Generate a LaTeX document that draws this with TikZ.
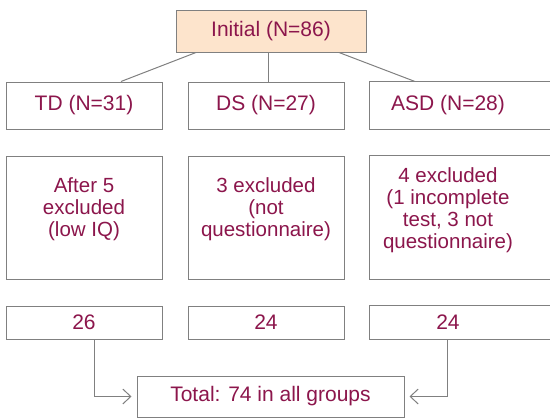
\documentclass[tikz,border=0pt]{standalone}
\usepackage{fontspec}
\setmainfont{Liberation Sans}
\usepackage{tikz}
\usetikzlibrary{arrows.meta}
\definecolor{textred}{RGB}{140,22,76}
\definecolor{linegray}{RGB}{128,128,128}
\definecolor{peach}{RGB}{253,228,204}
\tikzstyle{box}=[rectangle,draw=linegray,line width=1pt,fill=white,text=textred,minimum width=156pt,inner sep=0pt,font=\fontsize{21}{22}\selectfont]
\tikzstyle{open box}=[box,draw=none]
\tikzstyle{boxtext}=[text=textred,align=center,inner sep=0pt,font=\fontsize{20.5}{22}\selectfont]
\tikzstyle{link}=[draw=linegray,line width=1pt]
\tikzstyle{arrow}=[link,-{Straight Barb[length=8pt,width=15pt]},shorten >=5pt]

\begin{document}
\begin{tikzpicture}[x=1pt,y=-1pt]
    \clip (0,0) rectangle (550,418);
    \node[box,fill=peach,minimum width=190pt,minimum height=42pt] (init) at (271,31) {Initial (N=86)};
    % the three groups
    \foreach \x/\name/\sty/\lbl in {84/td/box/TD (N=31), 266/ds/box/DS (N=27), 448/asd/open box/ASD (N=28)}
        \node[\sty,minimum height=47pt] (\name) at (\x,105.5) {\lbl};
    \foreach \x/\name/\sty in {84/exa/box, 266/exb/box, 448/exc/open box}
        \node[\sty,minimum height=123pt] (\name) at (\x,217.5) {};
    \node[boxtext] (exatext) at (84,209) {After 5\\excluded\\(low IQ)};
    \node[boxtext] (exbtext) at (266,209) {3 excluded\\(not\\questionnaire)};
    \node[boxtext] (exctext) at (448,210) {4 excluded\\(1 incomplete\\test, 3 not\\questionnaire)};
    \foreach \x/\name/\sty/\num in {84/cnta/box/26, 266/cntb/box/24, 448/cntc/open box/24}
        \node[\sty,minimum height=33pt] (\name) at (\x,322.5) {\num};
    \node[box,minimum width=267pt,minimum height=41pt] (total) at (270.5,396.5) {Total: 74 in all groups};
    % right column runs off the page
    \foreach \name in {asd,exc,cntc}
        \draw[link] ([xshift=200pt]\name.north west) -- (\name.north west) -- (\name.south west) -- ([xshift=200pt]\name.south west);
    \path[link] ([xshift=-75pt]init.south) -- ([xshift=37pt]td.north);
    \path[link] ([xshift=-3pt]init.south) -- ([xshift=2pt]ds.north);
    \path[link] ([xshift=68pt]init.south) -- ([xshift=-33pt]asd.north);
    \path[arrow] ([xshift=10pt]cnta.south) |- (total.west);
    \path[arrow] ([xshift=-1pt]cntc.south) |- (total.east);
\end{tikzpicture}
\end{document}
